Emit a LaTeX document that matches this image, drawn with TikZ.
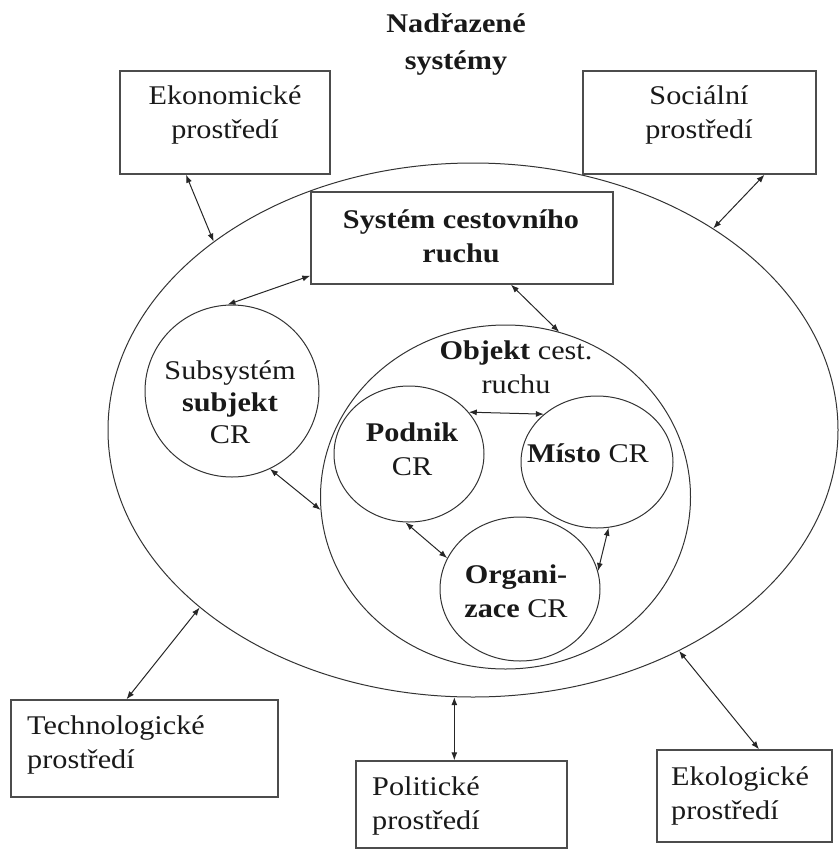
\documentclass[tikz,border=0pt]{standalone}
\usepackage{fontspec}
\setmainfont{Liberation Serif}[FakeStretch=1.12]
\usetikzlibrary{shapes.geometric,arrows.meta}
\begin{document}
\begin{tikzpicture}[x=1pt,y=-1pt,
  shp/.style={draw=black!80, line width=1pt, inner sep=0pt},
  ell/.style={shp, ellipse},
  rect/.style={shp, rectangle, draw=black!70, line width=1.4pt},
  txt/.style={align=center, inner sep=0pt, text=black!90, font=\fontsize{27}{34}\selectfont},
  ltxt/.style={align=left, inner sep=0pt, anchor=west, text=black!90, font=\fontsize{27}{34}\selectfont},
  link/.style={draw=black!85, line width=1pt, {Latex[length=8pt,width=6pt]}-{Latex[length=8pt,width=6pt]}}
]
\useasboundingbox (0,0) rectangle (840,849);
% shapes
\node[ell, minimum width=730pt, minimum height=534pt] (big) at (473,430) {};
\node[rect, minimum width=210pt, minimum height=103pt] (eko) at (225,122.5) {};
\node[rect, minimum width=233pt, minimum height=103pt] (soc) at (699.5,122.5) {};
\node[rect, minimum width=302pt, minimum height=92pt] (sys) at (462,238) {};
\node[rect, minimum width=267pt, minimum height=97pt] (tech) at (144.5,748.5) {};
\node[rect, minimum width=211pt, minimum height=87pt] (pol) at (461.5,804.5) {};
\node[rect, minimum width=175pt, minimum height=92pt] (ekol) at (744.5,796) {};
\node[ell, minimum width=174pt, minimum height=172pt] (sub) at (232,391) {};
\node[ell, minimum width=370pt, minimum height=344pt] (obj) at (505.5,497) {};
\node[ell, minimum width=150pt, minimum height=136pt] (pod) at (409,454) {};
\node[ell, minimum width=152pt, minimum height=132pt] (mis) at (597,462) {};
\node[ell, minimum width=160pt, minimum height=144pt] (org) at (520,589) {};
% texts
\node[txt] (title) at (456,44) {\textbf{Nadřazené}\\[3pt]\textbf{systémy}};
\node[txt] (ekoT) at (225,114.5) {Ekonomické\\prostředí};
\node[txt] (socT) at (699,114.5) {Sociální\\prostředí};
\node[txt] (sysT) at (461,236.5) {\textbf{Systém cestovního}\\\textbf{ruchu}};
\node[txt, font=\fontsize{27}{32}\selectfont] (subT) at (230,402) {Subsystém\\\textbf{subjekt}\\CR};
\node[txt] (objT) at (516,367.5) {\textbf{Objekt} cest.\\ruchu};
\node[txt] (podT) at (412,449.5) {\textbf{Podnik}\\CR};
\node[txt] (misT) at (588,453) {\textbf{Místo} CR};
\node[txt] (orgT) at (516,591.5) {\textbf{Organi-}\\\textbf{zace} CR};
\node[ltxt] (techT) at (27,744.5) {Technologické\\prostředí};
\node[ltxt] (polT) at (372,806) {Politické\\prostředí};
\node[ltxt] (ekolT) at (671,796) {Ekologické\\prostředí};
% connectors
\draw[link] ([xshift=-39pt]eko.south) -- (big.144);
\draw[link] ([xshift=65pt]soc.south) -- (big.40.6);
\draw[link] ([yshift=9pt]sys.south west) -- (sub.93);
\draw[link] ([xshift=49pt]sys.south) -- (obj.72.8);
\draw[link] (sub.296.3) -- (obj.184.7);
\draw[link] (pod.35) -- (mis.138);
\draw[link] (pod.267.4) -- (org.157.8);
\draw[link] (mis.280) -- (org.13.3);
\draw[link] (big.213.4) -- ([xshift=-18pt]tech.north);
\draw[link] (big.266) -- (big.266 |- pol.north);
\draw[link] (big.313.4) -- ([xshift=14.5pt]ekol.north);
\end{tikzpicture}
\end{document}
